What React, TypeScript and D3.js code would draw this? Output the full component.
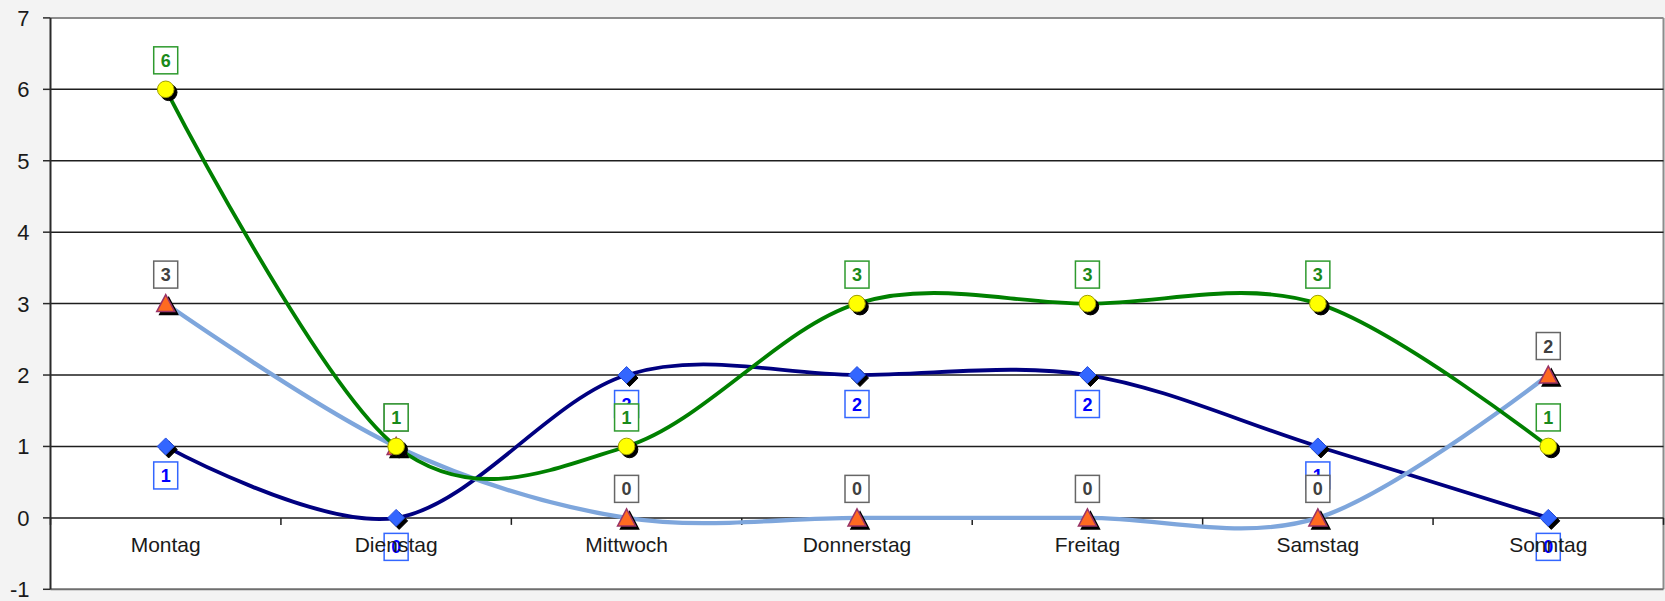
import React from 'react';
import * as d3 from 'd3';

const categories = ['Montag', 'Dienstag', 'Mittwoch', 'Donnerstag', 'Freitag', 'Samstag', 'Sonntag'];
const navyValues = [1, 0, 2, 2, 2, 1, 0];
const lightBlueValues = [3, 1, 0, 0, 0, 0, 2];
const greenValues = [6, 1, 1, 3, 3, 3, 1];
const yTicks = [-1, 0, 1, 2, 3, 4, 5, 6, 7];

const W = 1665;
const H = 601;

export default function App() {
  const x = d3.scaleBand<string>().domain(categories).range([50.5, 1663.5]).padding(0);
  const y = d3.scaleLinear().domain([-1, 7]).range([589.3, 17.9]);
  const cx = (c: string) => (x(c) as number) + x.bandwidth() / 2;
  const line = d3
    .line<number>()
    .x((_, i) => cx(categories[i]))
    .y((d) => y(d))
    .curve(d3.curveCardinal.tension(0));

  const series = [
    { key: 'navy', values: navyValues, stroke: '#000080', width: 3.8, marker: 'diamond', labelPos: 'below', boxStroke: '#3366ff', textFill: '#0000ff' },
    { key: 'light', values: lightBlueValues, stroke: '#7ea6dc', width: 4.3, marker: 'triangle', labelPos: 'above', boxStroke: '#666666', textFill: '#404040' },
    { key: 'green', values: greenValues, stroke: '#008000', width: 3.8, marker: 'circle', labelPos: 'above', boxStroke: '#2e9a2e', textFill: '#1a8a1a' },
  ];

  const markerShape = (type: string, px: number, py: number, fill: string, stroke: string, key: string) => {
    if (type === 'diamond') {
      const r = 8.5;
      return <path key={key} d={`M${px},${py - r}L${px + r},${py}L${px},${py + r}L${px - r},${py}Z`} fill={fill} stroke={stroke} strokeWidth={1} />;
    }
    if (type === 'triangle') {
      const w = 9, h = 9;
      return <path key={key} d={`M${px},${py - h}L${px + w},${py + h - 1}L${px - w},${py + h - 1}Z`} fill={fill} stroke={stroke} strokeWidth={1.5} />;
    }
    return <circle key={key} cx={px} cy={py} r={8.3} fill={fill} stroke={stroke} strokeWidth={1} />;
  };

  const markerColors: Record<string, [string, string]> = {
    diamond: ['#3366ff', '#2850e0'],
    triangle: ['#ff6a21', '#993366'],
    circle: ['#ffff00', '#a0a000'],
  };

  const band = x.bandwidth();
  const boundaries = d3.range(categories.length + 1).map((i) => 50.5 + i * band);

  return (
    <svg width={W} height={H} style={{ position: 'absolute', left: 0, top: 0, fontFamily: 'Liberation Sans, Arial, sans-serif' }}>
      <rect x={0} y={0} width={W} height={H} fill="#f3f3f3" />
      <rect x={50.5} y={y(7)} width={1663.5 - 50.5} height={y(-1) - y(7)} fill="#ffffff" />
      {/* plot border */}
      <line x1={50.5} x2={1663.5} y1={y(7)} y2={y(7)} stroke="#8c8c8c" strokeWidth={2} />
      <line x1={1663.5} x2={1663.5} y1={y(7)} y2={y(-1)} stroke="#8c8c8c" strokeWidth={2} />
      <line x1={50.5} x2={1663.5} y1={y(-1)} y2={y(-1)} stroke="#6e6e6e" strokeWidth={2} />
      {/* grid lines */}
      {yTicks.filter((t) => t >= 1 && t <= 6).map((t) => (
        <line key={`g${t}`} x1={50.5} x2={1663.5} y1={y(t)} y2={y(t)} stroke="#1e1e1e" strokeWidth={1.5} />
      ))}
      {/* x axis at 0 */}
      <line x1={50.5} x2={1663.5} y1={y(0)} y2={y(0)} stroke="#1e1e1e" strokeWidth={1.5} />
      {boundaries.map((bx, i) => (
        <line key={`xt${i}`} x1={bx} x2={bx} y1={y(0)} y2={y(0) + 7} stroke="#1e1e1e" strokeWidth={1.5} />
      ))}
      {/* y axis */}
      <line x1={50.5} x2={50.5} y1={y(7)} y2={y(-1)} stroke="#2a2a2a" strokeWidth={2} />
      {yTicks.map((t) => (
        <g key={`yt${t}`}>
          <line x1={43} x2={50.5} y1={y(t)} y2={y(t)} stroke="#2a2a2a" strokeWidth={1.5} />
          <text x={29.5} y={y(t)} dy="0.36em" textAnchor="end" fontSize={22} fill="#1a1a1a">{t}</text>
        </g>
      ))}
      {/* lines */}
      {series.map((s) => (
        <path key={`l${s.key}`} d={line(s.values) || ''} fill="none" stroke={s.stroke} strokeWidth={s.width} strokeLinejoin="round" strokeLinecap="round" />
      ))}
      {/* markers */}
      {series.map((s) => (
        <g key={`m${s.key}`}>
          {s.values.map((v, i) => {
            const px = cx(categories[i]);
            const py = y(v);
            const [fill, stroke] = markerColors[s.marker];
            return (
              <g key={i}>
                {markerShape(s.marker, px + 3, py + 3, '#000', '#000', 'sh')}
                {markerShape(s.marker, px, py, fill, stroke, 'mk')}
              </g>
            );
          })}
        </g>
      ))}
      {/* data labels */}
      {series.map((s) => (
        <g key={`dl${s.key}`}>
          {s.values.map((v, i) => {
            const px = cx(categories[i]);
            const py = y(v) + (s.labelPos === 'above' ? -29 : 29);
            return (
              <g key={i}>
                <rect x={px - 12} y={py - 13.5} width={24} height={27} fill="#ffffff" stroke={s.boxStroke} strokeWidth={1.5} />
                <text x={px} y={py} dy="0.36em" textAnchor="middle" fontSize={18} fontWeight="bold" fill={s.textFill}>{v}</text>
              </g>
            );
          })}
        </g>
      ))}
      {/* category labels */}
      {categories.map((c) => (
        <text key={c} x={cx(c)} y={552} textAnchor="middle" fontSize={21} fill="#1a1a1a">{c}</text>
      ))}
    </svg>
  );
}
